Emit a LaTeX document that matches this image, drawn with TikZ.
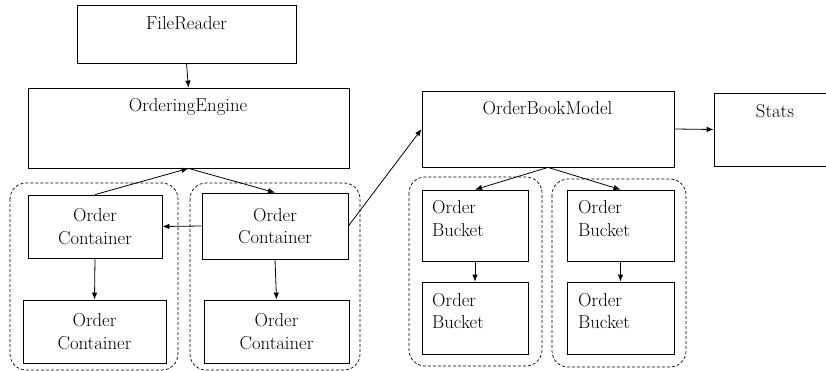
\documentclass[tikz,border=0pt]{standalone}
\usetikzlibrary{arrows.meta}
\begin{document}
\begin{tikzpicture}[x=1pt,y=-1pt,
  box/.style={draw,line width=0.8pt,rectangle,inner sep=0pt,align=center,font=\fontsize{18.7}{22.5}\selectfont},
  lbl/.style={inner sep=0pt,font=\fontsize{18.7}{22.5}\selectfont},
  grp/.style={draw,line width=0.7pt,dash pattern=on 3pt off 2pt,rounded corners=16pt},
  arr/.style={line width=0.8pt,-{Latex[length=7pt,width=5.5pt]}}]
\useasboundingbox (0,0) rectangle (826,371);
\clip (0,0) rectangle (826,371);
% groups
\draw[grp] (10,183) rectangle (178,370);
\draw[grp] (190,183) rectangle (360,370);
\draw[grp] (409,177) rectangle (542,366);
\draw[grp] (552,179) rectangle (686,367);
% boxes
\node[box,minimum width=219pt,minimum height=58pt] (fr) at (186.5,34) {};
\node[box,minimum width=321pt,minimum height=80pt] (oe) at (188.5,128) {};
\node[box,minimum width=252pt,minimum height=76pt] (obm) at (548,129) {};
\node[box,minimum width=122pt,minimum height=73pt] (st) at (775,129.5) {};
\node[box,minimum width=134pt,minimum height=63pt] (oc1) at (95,226.5) {Order\\Container};
\node[box,minimum width=146pt,minimum height=66pt] (oc2) at (275,226) {Order\\Container};
\node[box,minimum width=143pt,minimum height=63pt] (oc3) at (94.5,331.5) {Order\\Container};
\node[box,minimum width=145pt,minimum height=63pt] (oc4) at (276.5,331.5) {Order\\Container};
\node[box,minimum width=106pt,minimum height=71pt] (ob1) at (475,225.5) {};
\node[box,minimum width=106pt,minimum height=72pt] (ob2) at (475,318) {};
\node[box,minimum width=107pt,minimum height=71pt] (ob3) at (620.5,225.5) {};
\node[box,minimum width=107pt,minimum height=72pt] (ob4) at (620.5,318) {};
% labels
\node[lbl,anchor=base] (frt) at (186.5,30) {FileReader};
\node[lbl,anchor=base] (oet) at (188,112) {OrderingEngine};
\node[lbl,anchor=base] (obmt) at (547.5,115) {OrderBookModel};
\node[lbl,anchor=base] (stt) at (775,118) {Stats};
\node[lbl,anchor=west,align=left] (ob1t) at (432,218.4) {Order\\Bucket};
\node[lbl,anchor=west,align=left] (ob2t) at (432,310.8) {Order\\Bucket};
\node[lbl,anchor=west,align=left] (ob3t) at (578,218.4) {Order\\Bucket};
\node[lbl,anchor=west,align=left] (ob4t) at (578,310.8) {Order\\Bucket};
% connectors
\draw[arr] (fr.south) -- (oe.north);
\draw[arr] (oc1.north) -- (oe.south);
\draw[arr] (oe.south) -- (oc2.north);
\draw[arr] (oc2.west) -- (oc1.east);
\draw[arr] (oc1.south) -- (oc3.north);
\draw[arr] (oc2.south) -- (oc4.north);
\draw[arr] (oc2.east) -- (obm.west);
\draw[arr] (obm.east) -- (st.west);
\draw[arr] (obm.south) -- (ob1.north);
\draw[arr] (obm.south) -- (ob3.north);
\draw[arr] (ob1.south) -- (ob2.north);
\draw[arr] (ob3.south) -- (ob4.north);
\end{tikzpicture}
\end{document}
